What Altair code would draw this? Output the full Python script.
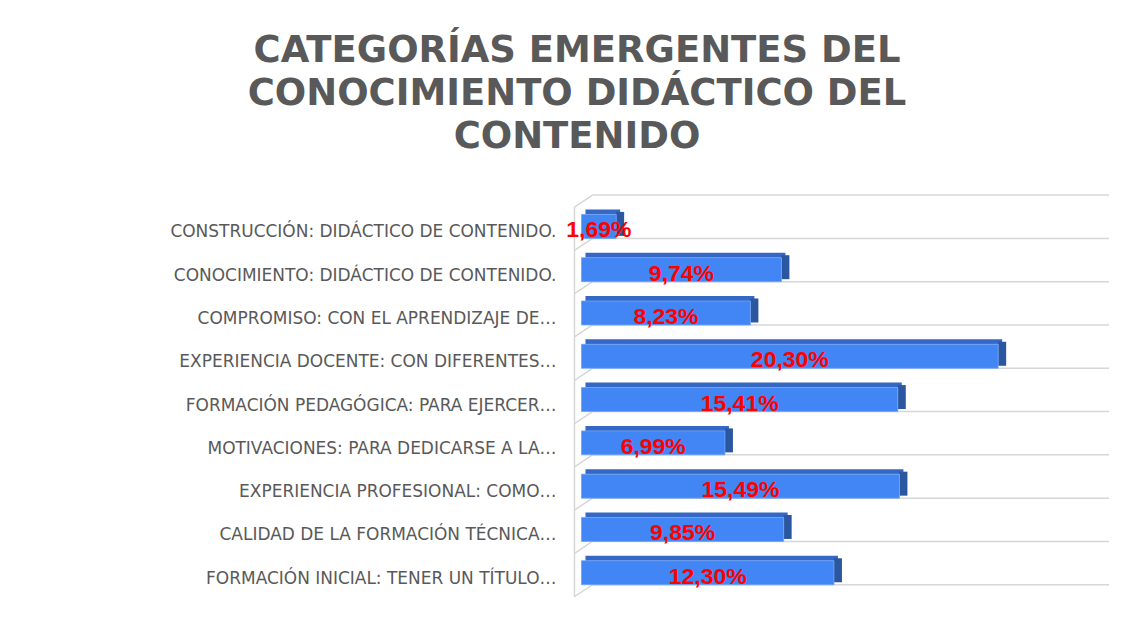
import altair as alt
import pandas as pd

# ---- data ----
categories = [
    "CONSTRUCCIÓN: DIDÁCTICO DE CONTENIDO.",
    "CONOCIMIENTO: DIDÁCTICO DE CONTENIDO.",
    "COMPROMISO: CON EL APRENDIZAJE DE…",
    "EXPERIENCIA DOCENTE: CON DIFERENTES…",
    "FORMACIÓN PEDAGÓGICA: PARA EJERCER…",
    "MOTIVACIONES:  PARA DEDICARSE A LA…",
    "EXPERIENCIA PROFESIONAL: COMO…",
    "CALIDAD DE LA FORMACIÓN TÉCNICA…",
    "FORMACIÓN INICIAL: TENER UN TÍTULO…",
]
values = [1.69, 9.74, 8.23, 20.30, 15.41, 6.99, 15.49, 9.85, 12.30]
value_labels = ["1,69%", "9,74%", "8,23%", "20,30%", "15,41%", "6,99%", "15,49%", "9,85%", "12,30%"]
title_lines = ["CATEGORÍAS EMERGENTES DEL", "CONOCIMIENTO DIDÁCTICO DEL", "CONTENIDO"]

# ---- styling constants ----
X_MIN, X_MAX = -0.34, 25.7       # value axis domain (axis hidden)
N = len(categories)
FRONT = 24 / 43.33               # share of a row taken by the bar's front face
FRONT_C = "#4285F4"
TOP_C = "#3568C4"
SIDE_C = "#2B56A0"
GRID_C = "#D6D6D6"
TEXT_C = "#595959"

df = pd.DataFrame({"cat": categories, "val": values, "lab": value_labels})
df["row"] = range(N)
df["bottom"] = df["row"] + 1
df["top"] = df["bottom"] - FRONT
df["ymid"] = (df["top"] + df["bottom"]) / 2
df["mid"] = df["val"] / 2
df["zero"] = 0.0

grid = pd.DataFrame({"b": list(range(N + 1))})
grid["x0"] = 0.0
grid["x1"] = X_MAX
axis_df = pd.DataFrame({"x0": [0.0], "b0": [0], "b1": [N]})

xs = alt.Scale(domain=[X_MIN, X_MAX], nice=False, zero=False)
ys = alt.Scale(domain=[0, N], reverse=True, nice=False, zero=False)

gridlines = alt.Chart(grid).mark_rule(color=GRID_C, strokeWidth=1.5, xOffset=11).encode(
    x=alt.X("x0:Q", scale=xs, axis=None),
    x2="x1:Q",
    y=alt.Y("b:Q", scale=ys, axis=None),
)
diagonals = alt.Chart(grid).mark_rule(
    color=GRID_C, strokeWidth=1.5, xOffset=-7, x2Offset=11, yOffset=12, y2Offset=0
).encode(
    x=alt.X("x0:Q", scale=xs, axis=None),
    x2="x0:Q",
    y=alt.Y("b:Q", scale=ys, axis=None),
    y2="b:Q",
)
front_axis = alt.Chart(axis_df).mark_rule(
    color=GRID_C, strokeWidth=1.5, xOffset=-7, yOffset=12, y2Offset=12
).encode(
    x=alt.X("x0:Q", scale=xs, axis=None),
    y=alt.Y("b0:Q", scale=ys, axis=None),
    y2="b1:Q",
)

top_face = alt.Chart(df).mark_rect(
    color=TOP_C, xOffset=4, x2Offset=4, yOffset=-5, y2Offset=0
).encode(
    x=alt.X("zero:Q", scale=xs, axis=None),
    x2="val:Q",
    y=alt.Y("top:Q", scale=ys, axis=None),
    y2="top:Q",
)
side_face = alt.Chart(df).mark_rect(
    color=SIDE_C, xOffset=0, x2Offset=8, yOffset=-2.5, y2Offset=-2.5
).encode(
    x=alt.X("val:Q", scale=xs, axis=None),
    x2="val:Q",
    y=alt.Y("top:Q", scale=ys, axis=None),
    y2="bottom:Q",
)
front_face = alt.Chart(df).mark_rect(color=FRONT_C, stroke="#6FA3F7", strokeWidth=0.8).encode(
    x=alt.X("zero:Q", scale=xs, axis=None),
    x2="val:Q",
    y=alt.Y("top:Q", scale=ys, axis=None),
    y2="bottom:Q",
)
val_text = alt.Chart(df).mark_text(
    color="#FF0000", font="Liberation Sans", fontWeight="bold", fontSize=23,
    align="center", baseline="middle", dy=4,
).encode(
    x=alt.X("mid:Q", scale=xs, axis=None),
    y=alt.Y("ymid:Q", scale=ys, axis=None),
    text="lab:N",
)
cat_text = alt.Chart(df).mark_text(
    color=TEXT_C, font="DejaVu Sans", fontSize=17, align="right", baseline="middle", dx=-25, dy=-6,
).encode(
    x=alt.X("zero:Q", scale=xs, axis=None),
    y=alt.Y("bottom:Q", scale=ys, axis=None),
    text="cat:N",
)

chart = alt.layer(
    gridlines, diagonals, front_axis, top_face, side_face, front_face, val_text, cat_text
).properties(
    width=535,
    height=390,
    background="white",
    padding={"left": 567, "top": 187, "right": 12, "bottom": 20},
    autosize=alt.AutoSizeParams(type="none"),
    title=alt.Title(
        title_lines, anchor="middle", dx=-265, offset=38, fontSize=37,
        font="DejaVu Sans", fontWeight="bold", color=TEXT_C, lineHeight=43,
    ),
).configure_view(stroke=None)

chart.save("out.html", embed_options={"renderer": "svg", "actions": False})
